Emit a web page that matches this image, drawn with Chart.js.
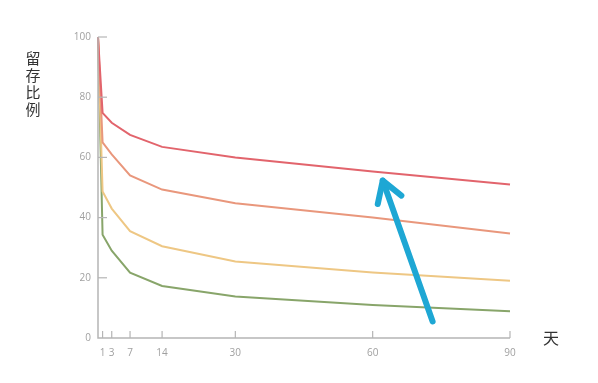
<!DOCTYPE html>
<html><head><meta charset="utf-8">
<script src="https://cdn.jsdelivr.net/npm/chart.js@4/dist/chart.umd.min.js"></script>
<style>html,body{margin:0;padding:0;background:#fff;}#wrap{width:598px;height:383px;position:relative;}</style>
</head><body><div id="wrap"><canvas id="c" width="598" height="383"></canvas></div>
<script>
const days = [0, 1, 3, 7, 14, 30, 60, 90];
const xTickValues = [1, 3, 7, 14, 30, 60, 90];
const yTickValues = [0, 20, 40, 60, 80, 100];
const seriesRed = [100, 74.8, 71.5, 67.5, 63.5, 60, 55.3, 51];
const seriesOrange = [100, 65, 61, 54, 49.3, 44.8, 40, 34.7];
const seriesYellow = [100, 48.7, 43, 35.5, 30.5, 25.4, 21.8, 19];
const seriesGreen = [100, 34.3, 29, 21.7, 17.3, 13.8, 11, 8.9];
const arrowTail = [73.1, 5.5];
const arrowHead = [62.2, 52.3];
const yTitle = '留存比例';
const xTitle = '天';

function pts(arr){ return days.map((d,i)=>({x:d,y:arr[i]})); }
function ds(arr,color){ return {data:pts(arr),borderColor:color,borderWidth:2,pointRadius:0,fill:false,tension:0,clip:false}; }

const decor = {
  id:'decor',
  afterDraw(chart){
    const ctx=chart.ctx, xs=chart.scales.x, ys=chart.scales.y;
    const x0=xs.getPixelForValue(0), y0=ys.getPixelForValue(0);
    ctx.save();
    ctx.strokeStyle='#b5b5b5'; ctx.lineWidth=1.5;
    ctx.beginPath();
    ctx.moveTo(x0, ys.getPixelForValue(100)); ctx.lineTo(x0,y0);
    ctx.lineTo(xs.getPixelForValue(90), y0);
    ctx.stroke();
    ctx.lineWidth=1.2;
    xs.ticks.forEach(t=>{const px=xs.getPixelForValue(t.value);ctx.beginPath();ctx.moveTo(px,y0);ctx.lineTo(px,y0-7);ctx.stroke();});
    ys.ticks.forEach(t=>{if(t.value===0)return;const py=ys.getPixelForValue(t.value);ctx.beginPath();ctx.moveTo(x0,py);ctx.lineTo(x0+9,py);ctx.stroke();});
    // titles
    ctx.fillStyle='#333'; ctx.font='15px "Noto Sans CJK SC"'; ctx.textAlign='center'; ctx.textBaseline='middle';
    [...yTitle].forEach((ch,i)=>ctx.fillText(ch, 33, 58+i*17));
    ctx.font='16px "Noto Sans CJK SC"';
    ctx.fillText(xTitle, 551, 338);
    // arrow
    const tx=xs.getPixelForValue(arrowTail[0]), ty=ys.getPixelForValue(arrowTail[1]);
    const hx=xs.getPixelForValue(arrowHead[0]), hy=ys.getPixelForValue(arrowHead[1]);
    ctx.strokeStyle='#1ea7d4'; ctx.lineWidth=6; ctx.lineCap='round'; ctx.lineJoin='round';
    ctx.beginPath(); ctx.moveTo(tx,ty); ctx.lineTo(hx,hy); ctx.stroke();
    const ang=Math.atan2(hy-ty,hx-tx), L=24, a=0.55;
    ctx.beginPath();
    ctx.moveTo(hx-L*Math.cos(ang-a), hy-L*Math.sin(ang-a));
    ctx.lineTo(hx,hy);
    ctx.lineTo(hx-L*Math.cos(ang+a), hy-L*Math.sin(ang+a));
    ctx.stroke();
    ctx.restore();
  }
};

new Chart(document.getElementById('c'),{
  type:'line',
  data:{datasets:[ds(seriesRed,'#e2646c'),ds(seriesOrange,'#e9977c'),ds(seriesYellow,'#eec784'),ds(seriesGreen,'#88a56a')]},
  options:{
    responsive:false,animation:false,
    layout:{padding:{left:0,right:88,top:37,bottom:0}},
    plugins:{legend:{display:false},tooltip:{enabled:false}},
    scales:{
      x:{type:'linear',min:0,max:90,
        afterBuildTicks(s){s.ticks=xTickValues.map(v=>({value:v}));},
        afterFit(s){s.height=45;},
        grid:{display:false,drawTicks:false},border:{display:false},
        ticks:{color:'#a0a0a0',font:{size:10,family:'"Open Sans"'},padding:9,maxRotation:0,autoSkip:false}},
      y:{type:'linear',min:0,max:100,
        afterBuildTicks(s){s.ticks=yTickValues.map(v=>({value:v}));},
        afterFit(s){s.width=98;},
        grid:{display:false,drawTicks:false},border:{display:false},
        ticks:{color:'#a0a0a0',font:{size:10,family:'"Open Sans"'},padding:7}}
    }
  },
  plugins:[decor]
});
</script></body></html>
